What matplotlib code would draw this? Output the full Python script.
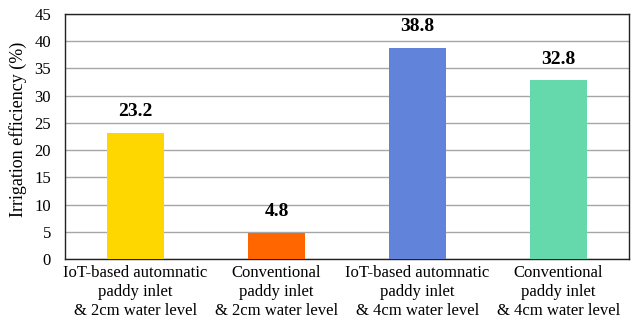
import matplotlib.pyplot as plt

categories = ['IoT-based automnatic\npaddy inlet\n& 2cm water level',
              'Conventional\npaddy inlet\n& 2cm water level',
              'IoT-based automnatic\npaddy inlet\n& 4cm water level',
              'Conventional\npaddy inlet\n& 4cm water level']
efficiency = [23.2, 4.8, 38.8, 32.8]
colors = ['#FFD700', '#FF6600', '#6283DA', '#66D9AC']
yticks = list(range(0, 50, 5))

plt.rcParams['font.family'] = ['Liberation Serif', 'DejaVu Serif']

fig = plt.figure(figsize=(6.36, 3.2), dpi=100)
ax = fig.add_axes([65/636, 1-259/320, 564/636, 245/320])

x = range(len(categories))
ax.bar(x, efficiency, width=0.40, color=colors, zorder=3)
for xi, v in zip(x, efficiency):
    ax.text(xi, v + 2.3, '%.1f' % v, ha='center', va='bottom',
            fontsize=14, fontweight='bold')

ax.set_xlim(-0.5, 3.5)
ax.set_ylim(0, 45)
ax.set_yticks(yticks)
ax.yaxis.grid(True, color='#A6A6A6', linewidth=1, zorder=0)
ax.set_xticks(list(x))
ax.set_xticklabels(categories, fontsize=12, linespacing=1.25)
ax.tick_params(axis='y', labelsize=12, length=0, pad=10)
ax.tick_params(axis='x', length=0, pad=4)
for s in ax.spines.values():
    s.set_color('#222222')
    s.set_linewidth(1)
ax.set_ylabel('Irrigation efficiency (%)', fontsize=13)
ax.yaxis.set_label_coords(-0.068, 0.53)

fig.savefig('out.png', dpi=100)
